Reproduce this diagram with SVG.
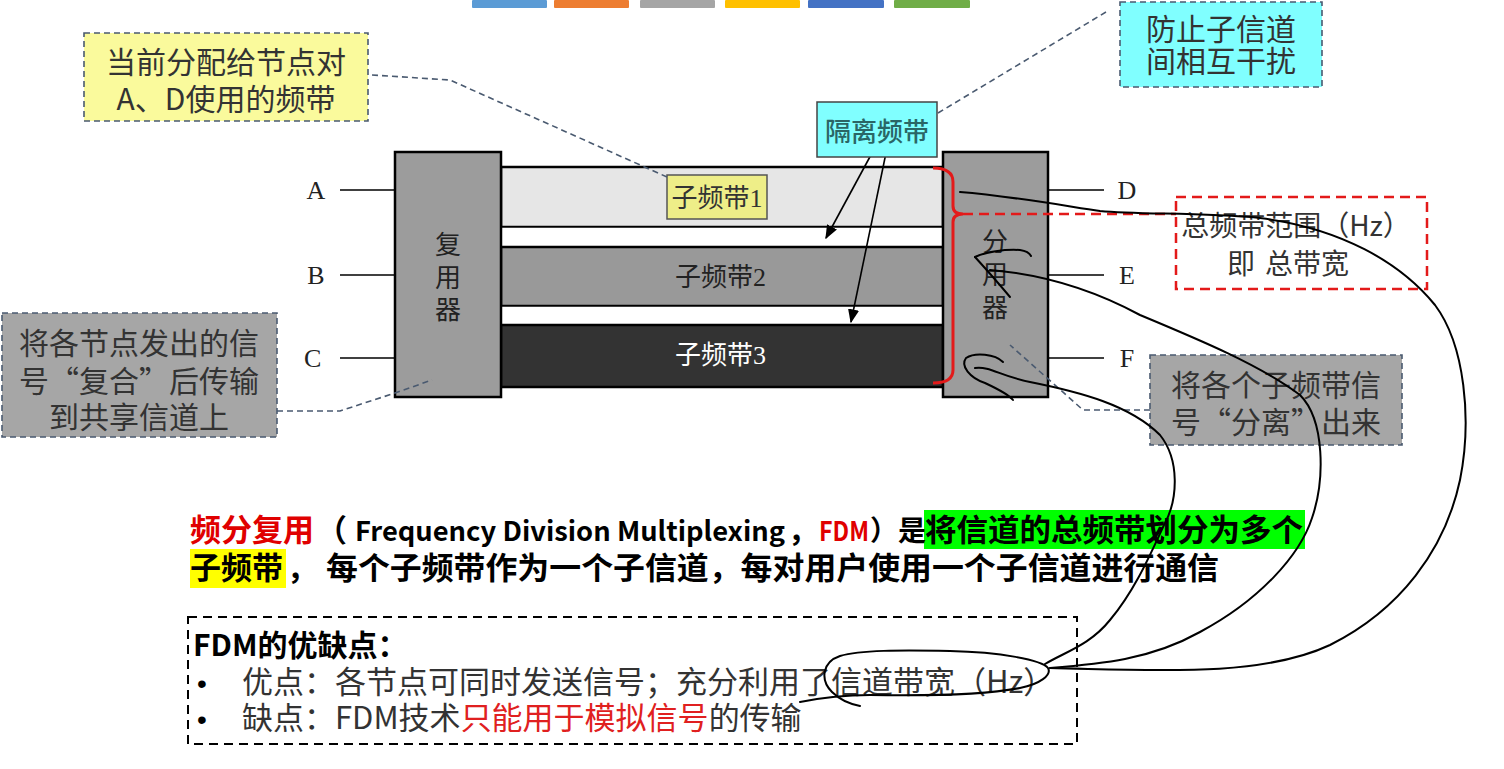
<svg xmlns="http://www.w3.org/2000/svg" width="1504" height="769" viewBox="0 0 1504 769">
<defs>
<marker id="arrB" viewBox="0 0 10 10" refX="9" refY="5" markerWidth="14" markerHeight="14" orient="auto" markerUnits="userSpaceOnUse">
<path d="M0,1 L10,5 L0,9 z" fill="#000"/>
</marker>
</defs>
<style>
.cjk{font-family:"Noto Sans CJK SC","Noto Sans",sans-serif;}
.ser{font-family:"Liberation Serif","Noto Sans CJK SC",serif;}
.callout{stroke:#4a5a70;stroke-width:1.6;stroke-dasharray:6 4;}
.conn{fill:none;stroke:#4a5a70;stroke-width:1.6;stroke-dasharray:6 4;}
.blk{stroke:#000;stroke-width:2.5;}
.ink{fill:none;stroke:#000;stroke-width:2;stroke-linecap:round;stroke-linejoin:round;}
.box30{font-size:30px;fill:#333;}
</style>
<rect width="1504" height="769" fill="#fff"/>

<g id="colorbar">
<rect x="472" y="0" width="75" height="8" rx="1" fill="#5B9BD5"/>
<rect x="554" y="0" width="75" height="8" rx="1" fill="#ED7D31"/>
<rect x="640" y="0" width="75" height="8" rx="1" fill="#A5A5A5"/>
<rect x="725" y="0" width="75" height="8" rx="1" fill="#FFC000"/>
<rect x="808" y="0" width="76" height="8" rx="1" fill="#4472C4"/>
<rect x="894" y="0" width="76" height="8" rx="1" fill="#70AD47"/>
</g>

<g id="bands">
<rect x="501" y="167" width="442" height="60" fill="#E6E6E6" stroke="#000" stroke-width="2.5"/>
<rect x="501" y="227" width="442" height="20" fill="#fff" stroke="#000" stroke-width="1.5"/>
<rect x="501" y="247" width="442" height="59" fill="#999" stroke="#000" stroke-width="2.5"/>
<rect x="501" y="306" width="442" height="19" fill="#fff" stroke="#000" stroke-width="1.5"/>
<rect x="501" y="325" width="442" height="62" fill="#333" stroke="#000" stroke-width="2.5"/>
<text class="ser" x="766" y="286" font-size="26" fill="#222" text-anchor="end">子频带2</text>
<text class="ser" x="766" y="364" font-size="26" fill="#fff" text-anchor="end">子频带3</text>
</g>

<g id="subband1">
<rect x="667" y="175" width="100" height="44" fill="#EEEE88" stroke="#555" stroke-width="1.5"/>
<text class="ser" x="717" y="207" font-size="26" fill="#333" text-anchor="middle">子频带1</text>
</g>

<g id="mux">
<rect x="395" y="152" width="106" height="245" fill="#9C9C9C" class="blk"/>
<text class="cjk" font-size="26" fill="#222" text-anchor="middle"><tspan x="448" y="254">复</tspan><tspan x="448" y="287">用</tspan><tspan x="448" y="319">器</tspan></text>
</g>

<g id="demux">
<rect x="943" y="152" width="105" height="245" fill="#9C9C9C" class="blk"/>
<text class="cjk" font-size="26" fill="#222" text-anchor="middle"><tspan x="995" y="251">分</tspan><tspan x="995" y="284">用</tspan><tspan x="995" y="317">器</tspan></text>
</g>

<g id="nodes">
<line x1="340" y1="190" x2="395" y2="190" stroke="#000" stroke-width="1.5"/>
<line x1="340" y1="275" x2="395" y2="275" stroke="#000" stroke-width="1.5"/>
<line x1="340" y1="358" x2="395" y2="358" stroke="#000" stroke-width="1.5"/>
<line x1="1048" y1="190" x2="1104" y2="190" stroke="#000" stroke-width="1.5"/>
<line x1="1048" y1="275" x2="1104" y2="275" stroke="#000" stroke-width="1.5"/>
<line x1="1048" y1="358" x2="1104" y2="358" stroke="#000" stroke-width="1.5"/>
<text class="ser" font-size="26" fill="#222" text-anchor="middle">
<tspan x="316" y="199">A</tspan><tspan x="316" y="284">B</tspan><tspan x="316" y="367">C</tspan>
<tspan x="1127" y="199">D</tspan><tspan x="1127" y="284">E</tspan><tspan x="1127" y="367">F</tspan>
</text>
</g>

<g id="connectors">
<polyline class="conn" points="372,75 450,80 667,177"/>
<line class="conn" x1="938" y1="113" x2="1106" y2="12"/>
<polyline class="conn" points="277,411 340,411 395,393 432,380"/>
<polyline class="conn" points="1150,410 1083,410 1010,345"/>
<line x1="872" y1="153" x2="826" y2="238" stroke="#000" stroke-width="1.6" marker-end="url(#arrB)"/>
<line x1="886" y1="153" x2="851" y2="322" stroke="#000" stroke-width="1.6" marker-end="url(#arrB)"/>
<path d="M933,168 Q953,168 953,182 L953,206 Q953,214 963,214 Q953,214 953,222 L953,370 Q953,383 933,383" fill="none" stroke="#E31A1A" stroke-width="3"/>
<line x1="963" y1="214" x2="1176" y2="214" stroke="#E31A1A" stroke-width="2.5" stroke-dasharray="10 6"/>
</g>

<g id="note-yellow">
<rect x="84" y="33" width="284" height="88" fill="#FAFA9C" class="callout"/>
<text class="cjk box30" text-anchor="middle"><tspan x="226" y="73">当前分配给节点对</tspan><tspan x="226" y="110">A、D使用的频带</tspan></text>
</g>

<g id="note-cyan">
<rect x="1120" y="2" width="202" height="85" fill="#80FFFF" class="callout"/>
<text class="cjk box30" text-anchor="middle"><tspan x="1221" y="40">防止子信道</tspan><tspan x="1221" y="72">间相互干扰</tspan></text>
</g>

<g id="guard-band">
<rect x="817" y="102" width="120" height="55" fill="#80FFFF" stroke="#444" stroke-width="1.5"/>
<text class="cjk" x="877" y="141" font-size="26" font-weight="500" fill="#2A6666" text-anchor="middle">隔离频带</text>
</g>

<g id="note-total">
<rect x="1176" y="197" width="251" height="92" fill="none" stroke="#E31A1A" stroke-width="2.5" stroke-dasharray="10 6"/>
<text class="cjk" font-size="28" fill="#333" text-anchor="middle"><tspan x="1296" y="236">总频带范围（Hz）</tspan><tspan x="1288" y="274">即<tspan dx="10">总带宽</tspan></tspan></text>
</g>

<g id="note-mux">
<rect x="2" y="313" width="275" height="124" fill="#A6A6A6" class="callout"/>
<text class="cjk box30" text-anchor="middle"><tspan x="139" y="354">将各节点发出的信</tspan><tspan x="139" y="392">号“复合”后传输</tspan><tspan x="139" y="428">到共享信道上</tspan></text>
</g>

<g id="note-demux">
<rect x="1150" y="355" width="252" height="90" fill="#A6A6A6" class="callout"/>
<text class="cjk box30" text-anchor="middle"><tspan x="1276" y="396">将各个子频带信</tspan><tspan x="1276" y="433">号“分离”出来</tspan></text>
</g>

<g id="definition">
<rect x="924" y="510" width="381" height="39" fill="#00FF00"/>
<rect x="190" y="549" width="96" height="39" fill="#FFFF00"/>
<g class="cjk" font-weight="bold" font-size="31">
<text x="190" y="541" fill="#E00000">频分复用</text>
<text x="316" y="541" fill="#000">（</text>
<text x="355" y="541" fill="#000" font-size="27" textLength="430" lengthAdjust="spacingAndGlyphs">Frequency Division Multiplexing</text>
<text x="788" y="541" fill="#000" font-size="30">，</text>
<text x="819" y="541" fill="#E00000" font-size="27" textLength="50" lengthAdjust="spacingAndGlyphs">FDM</text>
<text x="870" y="541" fill="#000" font-size="28">）是</text>
<text x="925" y="541" fill="#000" textLength="378" lengthAdjust="spacingAndGlyphs">将信道的总频带划分为多个</text>
<text x="190" y="579" fill="#000">子频带</text>
<text x="287" y="579" fill="#000" font-size="30">，</text>
<text x="326" y="579" fill="#000" textLength="893" lengthAdjust="spacingAndGlyphs">每个子频带作为一个子信道，每对用户使用一个子信道进行通信</text>
</g>
</g>

<g id="pros-cons">
<rect x="188" y="617" width="889" height="127" fill="none" stroke="#000" stroke-width="2" stroke-dasharray="9 6"/>
<text class="cjk" x="193" y="656" font-size="30" font-weight="bold" fill="#000">FDM的优缺点：</text>
<text x="197" y="693" font-size="28" fill="#000" font-family="Liberation Sans, sans-serif">•</text>
<text x="197" y="729" font-size="28" fill="#000" font-family="Liberation Sans, sans-serif">•</text>
<text class="cjk" x="242" y="693" font-size="31" fill="#333">优点：各节点可同时发送信号；充分利用了信道带宽（Hz）</text>
<text class="cjk" x="242" y="729" font-size="31" fill="#333">缺点：FDM技术<tspan fill="#E02020">只能用于模拟信号</tspan>的传输</text>
</g>

<g id="handwriting">
<path class="ink" d="M960,192 C1010,196 1060,205 1100,211 C1140,215 1200,212 1260,218 C1340,228 1400,262 1435,305 C1465,345 1472,420 1460,480 C1445,550 1400,610 1330,645 C1260,678 1150,670 1050,668"/>
<path class="ink" d="M975,257 C985,252 1005,249 1020,250 C1027,251 1030,254 1031,256"/>
<path class="ink" d="M975,257 C985,268 1000,285 1010,297"/>
<path class="ink" d="M990,270 C1040,274 1090,288 1140,315 C1200,340 1260,365 1300,395 C1325,420 1325,480 1312,518 C1300,555 1260,600 1200,632 C1150,660 1100,664 1050,668"/>
<path class="ink" d="M1003,362 C995,354 975,352 966,358 C960,366 970,378 985,383 C1000,390 1010,396 1013,400"/>
<path class="ink" d="M975,368 C990,366 1000,376 1030,382 C1080,392 1130,405 1160,435 C1180,460 1178,500 1164,525 C1150,555 1135,590 1110,620 C1090,645 1065,652 1045,664"/>
<path class="ink" d="M800,702 C820,698 840,695 870,695 C930,696 990,694 1020,688 C1040,684 1052,675 1048,668 C1042,660 1000,652 950,651 C900,650 860,650 840,656 C822,662 820,680 832,692 C840,700 850,704 860,706"/>
</g>
</svg>
